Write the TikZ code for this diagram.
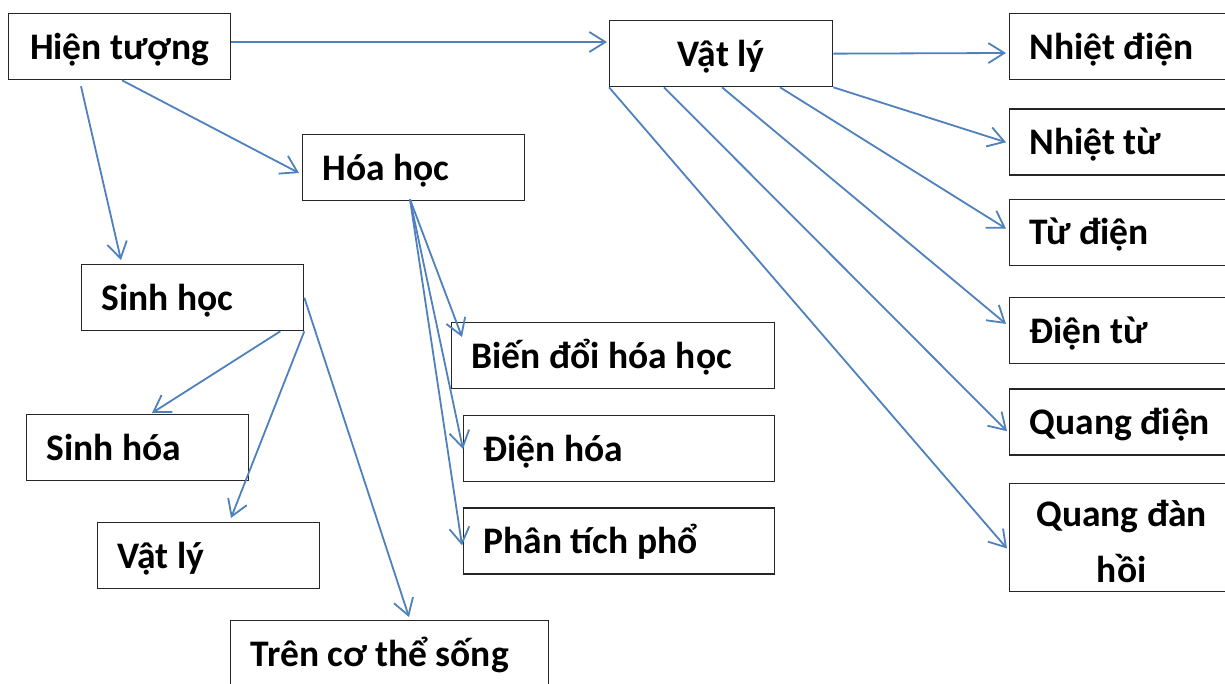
\documentclass[tikz,border=0pt]{standalone}
\usepackage{fontspec}
\setmainfont{Carlito}
\usetikzlibrary{arrows.meta,positioning}
\definecolor{xanh}{RGB}{79,129,189}

\tikzset{
  khung/.style={draw=black!85, line width=1.3pt, anchor=north west, inner xsep=20pt, inner ysep=0pt,
    minimum height=66pt, align=flush left, text height=33pt, text depth=8pt},
  muiten/.style={xanh, line width=1.8pt, ->}
}

\begin{document}
\begin{tikzpicture}[x=1pt,y=-1pt,font=\bfseries\fontsize{37.5}{52}\selectfont,
  >={Straight Barb[length=16pt,width=20pt]}]
\useasboundingbox (0,0) rectangle (1225,683);
\fill[white] (0,0) rectangle (1225,683);
\clip (0,0) rectangle (1225,683);
\node[khung,text width=182pt,align=flush center] (0) at (8,13) {Hiện tượng};
\node[khung,text width=183pt,align=flush center] (1) at (609,20) {Vật lý};
\node[khung,text width=182pt] (2) at (302,134) {Hóa học};
\node[khung,text width=182pt] (3) at (81,264) {Sinh học};
\node[khung,text width=184pt] (4) at (1009,13) {Nhiệt điện};
\node[khung,text width=184pt] (5)[below=28pt of 4] {Nhiệt từ};
\node[khung,text width=184pt] (6)[below=23pt of 5] {Từ điện};
\node[khung,text width=184pt] (7)[below=31pt of 6] {Điện từ};
\node[khung,text width=184pt] (8)[below=24pt of 7] {Quang điện};
\node[khung,minimum width=224pt,minimum height=108pt] (9)[below=27pt of 8] {\raisebox{-1pt}{\begin{tabular}{c}Quang đàn\\[4pt]hồi\end{tabular}}};
\node[khung,text width=283pt] (10) at (451,322) {Biến đổi hóa học};
\node[khung,text width=271pt] (11) at (463,415) {Điện hóa};
\node[khung,text width=271pt] (12)[below=25pt of 11] {Phân tích phổ};
\node[khung,text width=182pt] (13) at (26,414) {Sinh hóa};
\node[khung,text width=182pt] (14) at (97,522) {Vật lý};
\node[khung,text width=278pt] (15) at (230,620) {Trên cơ thể sống};
\path[muiten] ([yshift=-29pt]0.north east) edge ([xshift=-2pt,yshift=-22pt]1.north west)
	([xshift=114pt]0.south west) edge ([xshift=-3pt,yshift=-39pt]2.north west)
	([xshift=73pt,yshift=-6pt]0.south west) edge ([xshift=40pt,yshift=4pt]3.north west)
	(1.east) edge ([xshift=-3pt,yshift=-40pt]4.north west)
	(1.south east) edge ([xshift=-3pt,yshift=-34pt]5.north west)
	([xshift=171pt]1.south west) edge ([xshift=-3pt,yshift=-30pt]6.north west)
	([xshift=113pt]1.south west) edge ([xshift=-3pt,yshift=-27pt]7.north west)
	([xshift=55pt]1.south west) edge ([xshift=-2pt,yshift=-43pt]8.north west)
	(1.south west) edge ([xshift=-2pt,yshift=-66pt]9.north west)
	([xshift=108pt,yshift=2pt]2.south west) edge ([xshift=11pt,yshift=-15pt]10.north west)
	([xshift=108pt,yshift=2pt]2.south west) edge ([yshift=-34pt]11.north west)
	([xshift=108pt,yshift=2pt]2.south west) edge ([xshift=-1pt,yshift=-38pt]12.north west)
	([xshift=-24pt]3.south east) edge ([xshift=126pt,yshift=1pt]13.north west)
	(3.south east) edge ([xshift=134pt,yshift=4pt]14.north west)
	(3.east) edge ([xshift=179pt,yshift=3pt]15.north west);
\end{tikzpicture}
\end{document}
